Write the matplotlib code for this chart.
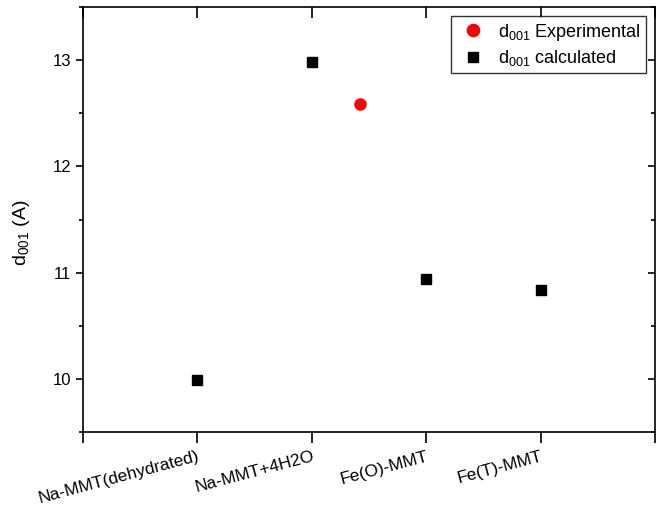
import numpy as np
import matplotlib.pyplot as plt
from matplotlib.ticker import MultipleLocator

plt.rcParams['font.family'] = ['Liberation Sans', 'DejaVu Sans']
plt.rcParams['mathtext.fontset'] = 'custom'
plt.rcParams['mathtext.rm'] = 'Liberation Sans'
plt.rcParams['mathtext.it'] = 'Liberation Sans'

cats = ["Na-MMT(dehydrated)", "Na-MMT+4H2O", "Fe(O)-MMT", "Fe(T)-MMT"]
calc_x = [1, 2, 3, 4]
calc_y = [9.99, 12.98, 10.94, 10.84]
exp_x = [2.42]
exp_y = [12.59]

fig = plt.figure(figsize=(6.59, 5.07), dpi=100)
ax = fig.add_axes([0.126, 0.148, 0.868, 0.838])

ax.plot(exp_x, exp_y, "o", color="#ff0000", ms=8, mec="#ff0000", label=r"d$_{001}$ Experimental", ls="none")
ax.plot(calc_x, calc_y, "s", color="black", ms=6.5, label=r"d$_{001}$ calculated", ls="none")

ax.set_xlim(0, 5)
ax.set_ylim(9.5, 13.5)
ax.set_xticks([0] + calc_x + [5])
ax.set_xticklabels([""] + cats + [""], rotation=15, ha="right", rotation_mode="anchor", fontsize=12.5)
ax.yaxis.set_major_locator(MultipleLocator(1))
ax.yaxis.set_minor_locator(MultipleLocator(0.5))
ax.tick_params(axis="y", which="both", direction="out", labelsize=12, right=True, width=1.2)
ax.tick_params(axis="y", which="major", length=5)
ax.tick_params(axis="y", which="minor", length=3)
ax.tick_params(axis="x", direction="out", length=8, width=1.2, top=True, pad=4)
# right/top ticks point inward
for t in ax.yaxis.get_major_ticks() + ax.yaxis.get_minor_ticks():
    t.tick2line.set_marker(0)
for t in ax.xaxis.get_major_ticks():
    t.tick2line.set_marker(3)
for s in ax.spines.values():
    s.set_linewidth(1.2)

ax.set_ylabel(r"d$_{001}$ (A)", fontsize=14)
ax.yaxis.set_label_coords(-0.09, 0.47)

leg = ax.legend(loc="upper right", fontsize=13, frameon=True, fancybox=False,
                edgecolor="black", handletextpad=0.5, borderaxespad=0.5,
                borderpad=0.3, labelspacing=0.3, handlelength=1.8, markerscale=1.1)
leg.get_frame().set_linewidth(1.0)

fig.savefig("out.png", dpi=100)
